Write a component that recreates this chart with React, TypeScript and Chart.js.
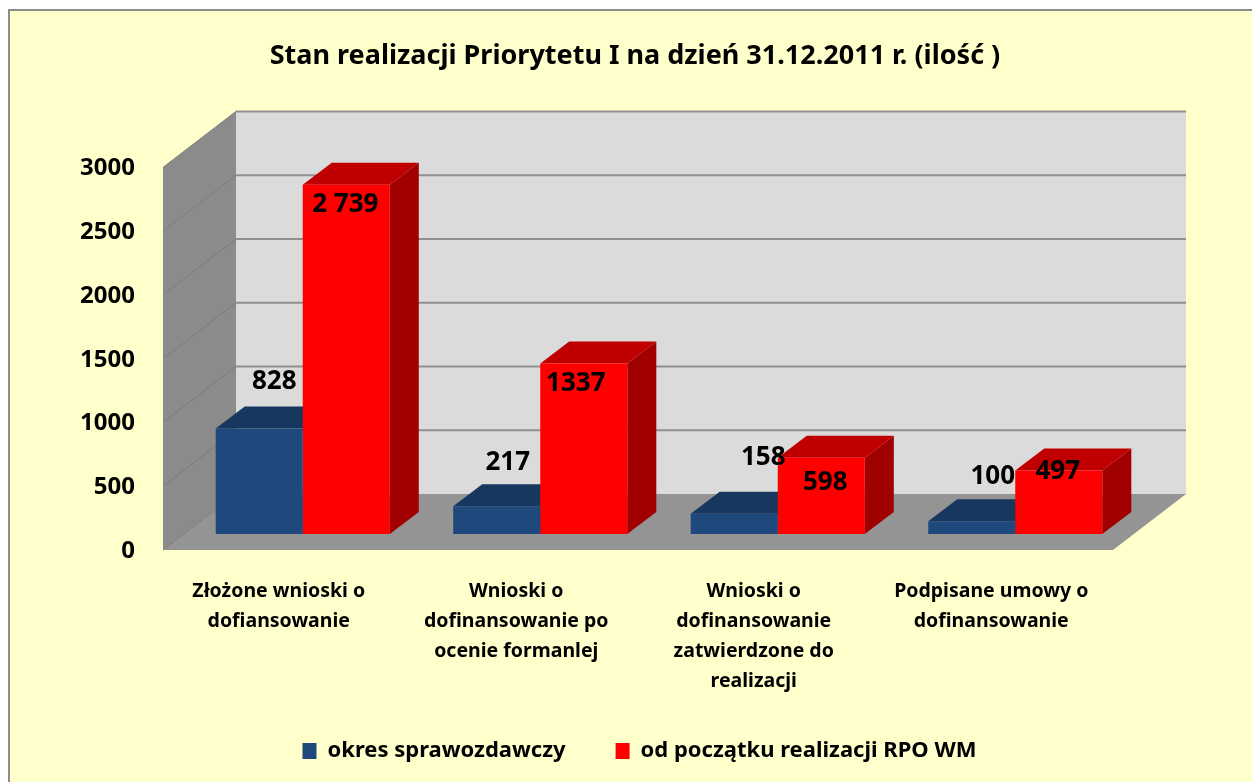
import React, { useEffect, useRef } from "react";
import { Chart, registerables } from "chart.js";

Chart.register(...registerables);

const categories = [
  ["Złożone wnioski o", "dofiansowanie"],
  ["Wnioski o", "dofinansowanie po", "ocenie formanlej"],
  ["Wnioski o", "dofinansowanie", "zatwierdzone do", "realizacji"],
  ["Podpisane umowy o", "dofinansowanie"],
];
const seriesNames = ["okres sprawozdawczy", "od początku realizacji RPO WM"];
const periodValues = [828, 217, 158, 100];
const totalValues = [2739, 1337, 598, 497];
const periodLabels = ["828", "217", "158", "100"];
const totalLabels = ["2 739", "1337", "598", "497"];
const titleText = "Stan realizacji Priorytetu I na dzień 31.12.2011 r. (ilość )";

// label nudges relative to each bar's top-centre
const periodLabelNudge = [[15, -47], [11, -44], [29, -56], [21, -45]];
const totalLabelNudge = [[-1, 20], [-8, 20], [4, 25], [-1, 1]];

const FONT = "'Noto Sans', sans-serif";
const BLUE = "#1F497D";
const RED = "#FF0000";

const poly = (ctx: CanvasRenderingContext2D, pts: number[][], fill: string) => {
  ctx.beginPath();
  pts.forEach((p, i) => (i ? ctx.lineTo(p[0], p[1]) : ctx.moveTo(p[0], p[1])));
  ctx.closePath();
  ctx.fillStyle = fill;
  ctx.fill();
};

const scene3d = {
  id: "scene3d",
  beforeDraw(chart: any) {
    const { ctx, width, height } = chart;
    ctx.save();
    ctx.fillStyle = "#FFFFFF";
    ctx.fillRect(0, 0, width, height);
    ctx.fillStyle = "#FFFFCC";
    ctx.fillRect(8, 10, width, height);
    ctx.fillStyle = "#8C8C8C";
    ctx.fillRect(8, 9, width, 2);
    ctx.fillRect(8, 9, 2, height);
    ctx.restore();
  },
  beforeDatasetsDraw(chart: any) {
    const { ctx, chartArea, scales } = chart;
    const y = scales.y;
    const left = chartArea.left - 21;
    const back = chartArea.left + 52;
    const span = chartArea.right - chartArea.left;
    const fy = (v: number) => y.getPixelForValue(v) + 16;
    const by = (v: number) => y.getPixelForValue(v) - 40;
    ctx.save();
    poly(ctx, [[back, by(0)], [back + span, by(0)], [back + span, by(3000)], [back, by(3000)]], "#DBDBDB");
    poly(ctx, [[left, fy(0)], [back, by(0)], [back, by(3000)], [left, fy(3000)]], "#8B8B8B");
    poly(ctx, [[left, fy(0)], [back, by(0)], [back + span, by(0)], [left + span, fy(0)]], "#949494");
    y.ticks.forEach((t: any) => {
      ctx.strokeStyle = "#7C7C7C";
      ctx.lineWidth = 1;
      ctx.beginPath();
      ctx.moveTo(left, fy(t.value));
      ctx.lineTo(back, by(t.value));
      ctx.stroke();
      if (t.value > 0) {
        ctx.strokeStyle = "#8F8F8F";
        ctx.lineWidth = 2;
        ctx.beginPath();
        ctx.moveTo(back, by(t.value));
        ctx.lineTo(back + span, by(t.value));
        ctx.stroke();
      }
    });
    const dx = 29;
    const dy = 22;
    const shades = [
      { top: "#17375E", side: "#17375E" },
      { top: "#C00000", side: "#A00000" },
    ];
    [0, 1].forEach((d) => {
      chart.getDatasetMeta(d).data.forEach((bar: any) => {
        const p = bar.getProps(["x", "y", "base", "width"], true);
        const l = p.x - p.width / 2;
        const r = p.x + p.width / 2;
        poly(ctx, [[l, p.y], [l + dx, p.y - dy], [r + dx, p.y - dy], [r, p.y]], shades[d].top);
        poly(ctx, [[r, p.y], [r + dx, p.y - dy], [r + dx, p.base - dy], [r, p.base]], shades[d].side);
      });
    });
    ctx.restore();
  },
  afterDatasetsDraw(chart: any) {
    const { ctx } = chart;
    ctx.save();
    ctx.fillStyle = "#000000";
    ctx.font = `bold 26px ${FONT}`;
    ctx.textAlign = "center";
    ctx.textBaseline = "middle";
    const sets = [
      { text: periodLabels, nudge: periodLabelNudge },
      { text: totalLabels, nudge: totalLabelNudge },
    ];
    sets.forEach((s, d) => {
      chart.getDatasetMeta(d).data.forEach((bar: any, i: number) => {
        const p = bar.getProps(["x", "y"], true);
        ctx.fillText(s.text[i], p.x + s.nudge[i][0], p.y + s.nudge[i][1]);
      });
    });
    ctx.restore();
  },
  afterLayout(chart: any) {
    if (chart.legend) {
      chart.legend.left += 4.5;
      chart.legend.right += 4.5;
    }
    // let the tall category labels run past the axis box without being clipped
    chart.scales.x.bottom += 10;
  },
};

export default function App() {
  const ref = useRef<HTMLCanvasElement>(null);
  useEffect(() => {
    const chart = new Chart(ref.current as HTMLCanvasElement, {
      type: "bar",
      data: {
        labels: categories as any,
        datasets: [
          { label: seriesNames[0], data: periodValues, backgroundColor: BLUE, borderWidth: 0, yAxisID: "y" },
          { label: seriesNames[1], data: totalValues, backgroundColor: RED, borderWidth: 0, yAxisID: "y" },
        ],
      },
      options: {
        responsive: false,
        animation: false,
        devicePixelRatio: 1,
        categoryPercentage: 0.733,
        barPercentage: 1,
        layout: { padding: { left: 18, right: 0, top: 0, bottom: 10 } },
        plugins: {
          title: {
            display: true,
            text: titleText,
            color: "#000000",
            font: { family: FONT, size: 27, weight: "bold" },
            padding: { top: 40, bottom: 79 },
          },
          legend: {
            display: true,
            position: "bottom",
            labels: {
              boxWidth: 14,
              boxHeight: 16,
              padding: 50,
              color: "#000000",
              font: { family: FONT, size: 22, weight: "bold" },
            },
          },
          tooltip: { enabled: false },
        },
        scales: {
          x: {
            grid: { display: false },
            border: { display: false },
            afterFit: (s: any) => { s.height = 156; },
            ticks: {
              autoSkip: false,
              maxRotation: 0,
              minRotation: 0,
              padding: 35,
              labelOffset: -24,
              color: "#000000",
              font: { family: FONT, size: 19.5, weight: "bold", lineHeight: 1.53 },
            },
          },
          y: {
            min: 0,
            max: 3000,
            position: "left",
            grid: { display: false },
            border: { display: false },
            afterFit: (s: any) => { s.width = 166; },
            ticks: {
              stepSize: 500,
              padding: 41,
              labelOffset: 17,
              color: "#000000",
              font: { family: FONT, size: 24, weight: "bold" },
              callback: (v: any) => String(v),
            },
          },
          pad: {
            position: "right",
            display: true,
            grid: { display: false },
            border: { display: false },
            ticks: { display: false },
            afterFit: (s: any) => { s.width = 118; },
          },
        },
      } as any,
      plugins: [scene3d],
    });
    return () => chart.destroy();
  }, []);
  return (
    <canvas
      ref={ref}
      width={1252}
      height={782}
      style={{ position: "fixed", left: 0, top: 0, width: 1252, height: 782, display: "block" }}
    />
  );
}
